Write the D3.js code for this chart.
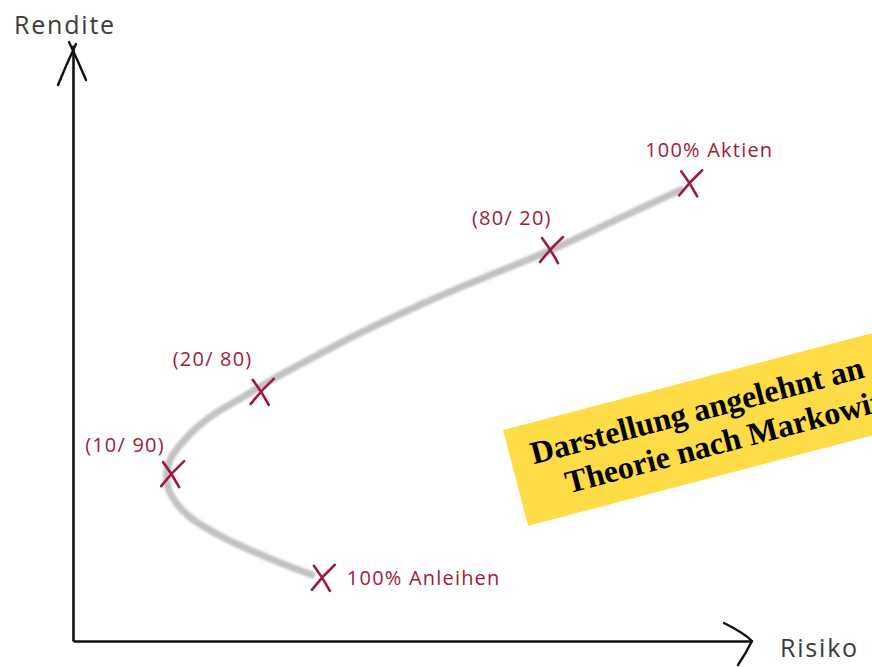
<!DOCTYPE html>
<html>
<head>
<meta charset="utf-8">
<script src="https://cdn.jsdelivr.net/npm/d3@7"></script>
<style>
  body { margin: 0; background: #fff; }
  svg { display: block; }
  .hand { font-family: "Open Sans", "DejaVu Sans", sans-serif; }
</style>
</head>
<body>
<svg id="chart" width="872" height="667"></svg>
<script>
// portfolio mixes (risk / return in arbitrary units 0..100)
const mixLabels = ["100% Anleihen", "(10/ 90)", "(20/ 80)", "(80/ 20)", "100% Aktien"]
const mixRisk   = [36.8, 14.6, 27.8, 70.4, 90.9]
const mixReturn = [10.6, 28.0, 41.8, 65.6, 76.8]

// efficient frontier
const curveRisk   = [35.2, 29.5, 22.1, 17.2, 14.6, 13.8, 14.3, 16.8, 20.2, 25.0, 30.0, 37.4, 42.3, 55.5, 70.4, 80.6, 89.5]
const curveReturn = [11.1, 13.6, 17.4, 20.8, 24.2, 27.0, 30.4, 34.2, 37.6, 40.9, 44.3, 48.8, 51.7, 58.6, 65.6, 71.0, 75.7]

const axisLabels = ["Rendite", "Risiko"]
const noteLines = ["Darstellung angelehnt an die", "Theorie nach Markowitz"]

const red = "#9e1b3b"
const svg = d3.select("#chart")

const x = d3.scaleLinear().domain([0, 100]).range([73, 752])
const y = d3.scaleLinear().domain([0, 100]).range([641, 45])

let defs = svg.append("defs")
defs.append("filter").attr("id", "soft")
    .append("feGaussianBlur").attr("stdDeviation", 0.8)

// axes (no ticks, just the domain lines)
let yAxis = svg.append("g").attr("transform", `translate(${x(0)},0)`)
    .call(d3.axisLeft(y).tickValues([]).tickSizeOuter(0))
let xAxis = svg.append("g").attr("transform", `translate(0,${y(0)})`)
    .call(d3.axisBottom(x).tickValues([]).tickSizeOuter(0))
svg.selectAll(".domain").attr("stroke", "#111").attr("stroke-width", 2.6)

// arrow heads, sketchy
let tipY = [x(0), y(100)]
let tipX = [x(100), y(0)]
svg.append("path")
    .attr("d", `M${tipY[0]-15},${tipY[1]+40} Q${tipY[0]-6},${tipY[1]+18} ${tipY[0]+3},${tipY[1]-1}
                M${tipY[0]-4},${tipY[1]-3} Q${tipY[0]+5},${tipY[1]+16} ${tipY[0]+13},${tipY[1]+35}`)
    .attr("fill", "none").attr("stroke", "#111").attr("stroke-width", 2.4).attr("stroke-linecap", "round")
svg.append("path")
    .attr("d", `M${tipX[0]-28},${tipX[1]-18} Q${tipX[0]-8},${tipX[1]-8} ${tipX[0]},${tipX[1]}
                Q${tipX[0]-6},${tipX[1]+12} ${tipX[0]-14},${tipX[1]+24}`)
    .attr("fill", "none").attr("stroke", "#111").attr("stroke-width", 2.4).attr("stroke-linecap", "round")

svg.append("text").attr("class", "hand")
    .attr("x", 14).attr("y", 34)
    .attr("font-size", 25).attr("letter-spacing", 1.8).attr("fill", "#3a3a3a")
    .text(axisLabels[0])
svg.append("text").attr("class", "hand")
    .attr("x", 780).attr("y", 657)
    .attr("font-size", 25).attr("letter-spacing", 1.8).attr("fill", "#3a3a3a")
    .text(axisLabels[1])

// frontier
let frontier = d3.range(curveRisk.length).map(i => [curveRisk[i], curveReturn[i]])
let line = d3.line().x(d => x(d[0])).y(d => y(d[1])).curve(d3.curveCatmullRom.alpha(0.5))
svg.append("path")
    .datum(frontier)
    .attr("d", line)
    .attr("fill", "none")
    .attr("stroke", "#c2c2c2")
    .attr("stroke-width", 7)
    .attr("stroke-linecap", "round")
    .attr("filter", "url(#soft)")

// crosses + labels
let labelOffset = [[24, 7], [-87, -22], [-89, -26], [-79, -25], [-45, -26]]
let mixes = mixLabels.map((l, i) => ({label: l, risk: mixRisk[i], ret: mixReturn[i], off: labelOffset[i]}))

let marks = svg.append("g").selectAll("g").data(mixes).join("g")
    .attr("transform", d => `translate(${x(d.risk)},${y(d.ret)})`)
marks.append("path")
    .attr("d", "M-9,-12 Q0,0 7,13 M12,-13 Q0,-2 -11,12")
    .attr("fill", "none").attr("stroke", red).attr("stroke-width", 2.6).attr("stroke-linecap", "round")
marks.append("text").attr("class", "hand")
    .attr("x", d => d.off[0]).attr("y", d => d.off[1])
    .attr("font-size", 20).attr("letter-spacing", 1.2).attr("fill", red)
    .text(d => d.label)

// yellow note
let note = svg.append("g").attr("transform", "translate(503,430) rotate(-14.7)")
note.append("rect").attr("width", 480).attr("height", 99).attr("fill", "#fedc48")
let t1 = note.append("text").attr("x", 21).attr("y", 41)
    .attr("font-family", "Liberation Serif, Times New Roman, serif")
    .attr("font-weight", "bold").attr("font-size", 32).attr("fill", "#000")
    .text(noteLines[0])
let mid = 21 + t1.node().getComputedTextLength() / 2
note.append("text").attr("x", mid).attr("y", 78).attr("text-anchor", "middle")
    .attr("font-family", "Liberation Serif, Times New Roman, serif")
    .attr("font-weight", "bold").attr("font-size", 32).attr("fill", "#000")
    .text(noteLines[1])
</script>
</body>
</html>
